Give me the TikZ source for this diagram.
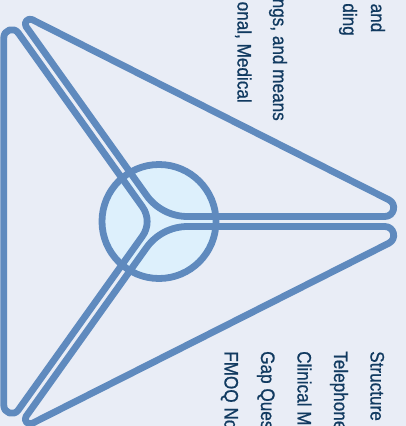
\documentclass[tikz,border=0pt]{standalone}
\usepackage{fontspec}
\setmainfont{Liberation Sans}[FakeStretch=0.88, FakeBold=0.8]
\usetikzlibrary{calc}
\definecolor{bgc}{HTML}{E9EDF6}
\definecolor{linec}{HTML}{5F8ABE}
\definecolor{circc}{HTML}{DDF0FC}
\definecolor{textc}{HTML}{113A60}
\begin{document}
\begin{tikzpicture}[x=1pt,y=-1pt,
  lobe/.style={draw=linec, line width=6.8pt, line join=round},
  hub/.style={draw=linec, fill=circc, line width=6.8pt},
  lbl/.style={text=textc, font=\fontsize{19.5}{23}\selectfont, rotate=-90, inner sep=0pt}]
\useasboundingbox (0,0) rectangle (406,426);
\fill[bgc] (0,0) rectangle (406,426);
\clip (0,0) rectangle (406,426);
% hub circle
\coordinate (C) at (159,221.5);
\draw[hub] (C) circle[radius=57pt];
% upper lobe
\coordinate (Ur) at (421.9,216.5);
\coordinate (Ut) at (14.9,10.9);
\coordinate (Uc) at (161.6,216.5);
\draw[lobe] ($(Ur)!37pt!(Ut)$) .. controls ($(Ur)!27.75pt!(Ut)$) and ($(Ur)!27.75pt!(Uc)$) .. ($(Ur)!37pt!(Uc)$)
  -- ($(Uc)!26pt!(Ur)$) .. controls ($(Uc)!9.7pt!(Ur)$) and ($(Uc)!9.7pt!(Ut)$) .. ($(Uc)!26pt!(Ut)$)
  -- ($(Ut)!19.3pt!(Uc)$) .. controls ($(Ut)!14.5pt!(Uc)$) and ($(Ut)!14.5pt!(Ur)$) .. ($(Ut)!19.3pt!(Ur)$)
  -- cycle;
% bottom lobe
\coordinate (Br) at (421.9,226.5);
\coordinate (Bt) at (14.9,432.1);
\coordinate (Bc) at (161.6,226.5);
\draw[lobe] ($(Br)!37pt!(Bt)$) .. controls ($(Br)!27.75pt!(Bt)$) and ($(Br)!27.75pt!(Bc)$) .. ($(Br)!37pt!(Bc)$)
  -- ($(Bc)!26pt!(Br)$) .. controls ($(Bc)!9.7pt!(Br)$) and ($(Bc)!9.7pt!(Bt)$) .. ($(Bc)!26pt!(Bt)$)
  -- ($(Bt)!19.3pt!(Bc)$) .. controls ($(Bt)!14.5pt!(Bc)$) and ($(Bt)!14.5pt!(Br)$) .. ($(Bt)!19.3pt!(Br)$)
  -- cycle;
% left lobe
\coordinate (Lt) at (3.8,12.7);
\coordinate (Lb) at (3.8,430.3);
\coordinate (Lc) at (152.9,221.5);
\draw[lobe] ($(Lt)!24.9pt!(Lc)$) -- ($(Lc)!18pt!(Lt)$) .. controls ($(Lc)!7.2pt!(Lt)$) and ($(Lc)!7.2pt!(Lb)$) .. ($(Lc)!18pt!(Lb)$)
  -- ($(Lb)!24.9pt!(Lc)$) .. controls ($(Lb)!17.2pt!(Lc)$) and ($(Lb)!17.2pt!(Lt)$) .. ($(Lb)!24.9pt!(Lt)$)
  -- ($(Lt)!24.9pt!(Lb)$) .. controls ($(Lt)!17.2pt!(Lb)$) and ($(Lt)!17.2pt!(Lc)$) .. ($(Lt)!24.9pt!(Lc)$)
  -- cycle;
% text fragments at the top right (ends of lines)
\node[lbl, anchor=base east] (t1) at (371,32.5) {and};
\node[lbl, anchor=base east] (t2) at (343,36) {ding};
\node[lbl, anchor=base east] (t3) at (273,121) {ngs, and means};
\node[lbl, anchor=base east] (t4) at (237.5,103) {onal, Medical};
% text at the bottom right (starts of lines)
\node[lbl, anchor=base west] (b1) at (370.5,351) {Structure};
\node[lbl, anchor=base west] (b2) at (334,351) {Telephone};
\node[lbl, anchor=base west] (b3) at (297.5,351) {Clinical M};
\node[lbl, anchor=base west] (b4) at (261,351) {Gap Ques};
\node[lbl, anchor=base west] (b5) at (224.5,351) {FMOQ No};
\end{tikzpicture}
\end{document}
